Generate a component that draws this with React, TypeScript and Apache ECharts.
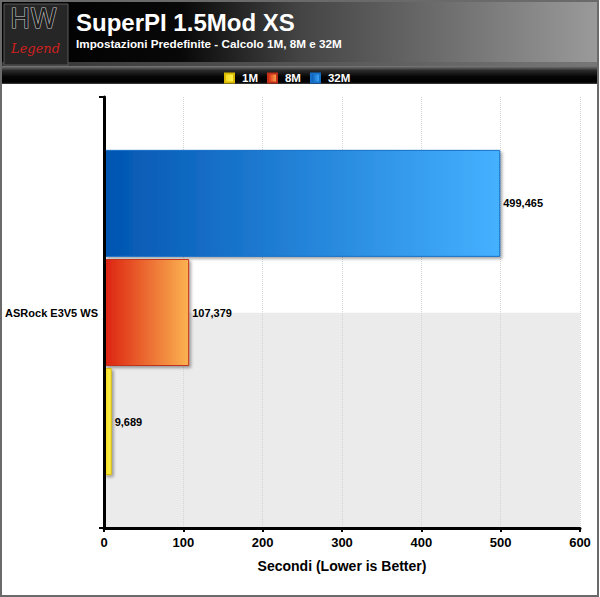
import React, { useEffect, useRef } from "react";
import * as echarts from "echarts";

const categories = ["ASRock E3V5 WS"];
const seriesNames = ["1M", "8M", "32M"];
const values1M = [9.689];
const values8M = [107.379];
const values32M = [499.465];
const xTicks = [0, 100, 200, 300, 400, 500, 600];

const FONT = "'Liberation Sans', Arial, sans-serif";

function grad(c1: string, c2: string) {
  return new echarts.graphic.LinearGradient(0, 0, 1, 0, [
    { offset: 0, color: c1 },
    { offset: 1, color: c2 },
  ]);
}

export default function App() {
  const ref = useRef<HTMLDivElement>(null);
  useEffect(() => {
    document.body.style.margin = "0";
    const chart = echarts.init(ref.current!, null, { renderer: "svg" });
    const fmt = (p: any) => String(p.value.toFixed(3)).replace(".", ",");
    const labelCfg = {
      show: true,
      position: "right",
      distance: 3,
      formatter: fmt,
      color: "#000",
      fontWeight: "bold",
      fontSize: 11,
      fontFamily: FONT,
    };
    const shadow = {
      shadowBlur: 3,
      shadowColor: "rgba(0,0,0,0.35)",
      shadowOffsetX: 2,
      shadowOffsetY: 2,
    };
    const option: any = {
      animation: false,
      backgroundColor: "#fff",
      textStyle: { fontFamily: FONT },
      grid: { left: 104, right: 20, top: 97, bottom: 69, containLabel: false },
      legend: {
        data: seriesNames,
        top: 67,
        left: 219,
        icon: "rect",
        itemWidth: 9,
        itemHeight: 9,
        itemGap: 9,
        textStyle: {
          color: "#fff",
          fontWeight: "bold",
          fontSize: 11.5,
          fontFamily: FONT,
          padding: [0, 0, 0, 3],
        },
      },
      xAxis: {
        type: "value",
        min: xTicks[0],
        max: xTicks[xTicks.length - 1],
        interval: 100,
        axisLine: { show: true, lineStyle: { color: "#000", width: 3 } },
        axisTick: { show: true, length: 4, lineStyle: { color: "#000", width: 2 } },
        axisLabel: {
          color: "#000",
          fontWeight: "bold",
          fontSize: 13,
          fontFamily: FONT,
          margin: 8,
        },
        splitLine: { show: true, lineStyle: { color: "#d4d4d4", type: "dotted", width: 1 } },
        name: "Secondi (Lower is Better)",
        nameLocation: "middle",
        nameGap: 31,
        nameTextStyle: { color: "#000", fontWeight: "bold", fontSize: 14, fontFamily: FONT },
      },
      yAxis: [
        {
          type: "category",
          data: categories,
          axisLine: { show: true, lineStyle: { color: "#000", width: 3 } },
          axisTick: { show: true, length: 5, lineStyle: { color: "#000", width: 2 } },
          axisLabel: {
            color: "#000",
            fontWeight: "bold",
            fontSize: 11,
            fontFamily: FONT,
            margin: 6,
          },
          z: 5,
        },
        {
          type: "value",
          min: 0,
          max: 2,
          interval: 1,
          position: "right",
          axisLine: { show: false },
          axisTick: { show: false },
          axisLabel: { show: false },
          splitLine: { show: false },
          splitArea: { show: true, areaStyle: { color: ["#ebebeb", "#ffffff"] } },
        },
      ],
      series: [
        {
          name: "32M",
          type: "bar",
          data: values32M,
          barWidth: 107,
          barGap: "2%",
          itemStyle: {
            color: grad("#0255b0", "#45b1ff"),
            borderColor: "#1670c8",
            borderWidth: 1,
            ...shadow,
          },
          label: labelCfg,
        },
        {
          name: "8M",
          type: "bar",
          data: values8M,
          barWidth: 107,
          barGap: "2%",
          itemStyle: {
            color: grad("#dc2210", "#fbb352"),
            borderColor: "#c0301a",
            borderWidth: 1,
            ...shadow,
          },
          label: labelCfg,
        },
        {
          name: "1M",
          type: "bar",
          data: values1M,
          barWidth: 107,
          barGap: "2%",
          itemStyle: {
            color: grad("#f2d81a", "#fff350"),
            borderColor: "#d8b800",
            borderWidth: 1,
            ...shadow,
          },
          label: labelCfg,
        },
      ],
      graphic: [
        {
          type: "rect",
          shape: { x: 1, y: 1, width: 597, height: 595 },
          style: { fill: "none", stroke: "#6a6a6a", lineWidth: 2 },
          z: 100,
          silent: true,
        },
        {
          type: "rect",
          shape: { x: 2, y: 2, width: 595, height: 63 },
          style: {
            fill: new echarts.graphic.LinearGradient(0, 0, 1, 0, [
              { offset: 0, color: "#000" },
              { offset: 0.3, color: "#080808" },
              { offset: 0.5, color: "#444" },
              { offset: 1, color: "#9a9a9a" },
            ]),
          },
          z: 1,
          silent: true,
        },
        {
          type: "rect",
          shape: { x: 2, y: 62, width: 595, height: 4 },
          style: {
            fill: new echarts.graphic.LinearGradient(0, 0, 1, 0, [
              { offset: 0, color: "#333" },
              { offset: 1, color: "#777" },
            ]),
          },
          z: 1,
          silent: true,
        },
        {
          type: "rect",
          shape: { x: 2, y: 66, width: 595, height: 18 },
          style: {
            fill: new echarts.graphic.LinearGradient(0, 0, 0, 1, [
              { offset: 0, color: "#7a7a7a" },
              { offset: 0.25, color: "#2a2a2a" },
              { offset: 0.6, color: "#050505" },
              { offset: 0.9, color: "#000" },
              { offset: 1, color: "#444" },
            ]),
          },
          z: 1,
          silent: true,
        },
        {
          type: "rect",
          shape: { x: 4, y: 4, width: 64, height: 61 },
          style: { fill: "#262626", stroke: "#5a5a5a", lineWidth: 1 },
          z: 2,
          silent: true,
        },
        {
          type: "text",
          x: 10,
          y: 5,
          style: {
            text: "HW",
            fill: "#1e1e1e",
            stroke: "#c8c8c8",
            lineWidth: 1.2,
            fontSize: 27,
            fontFamily: "'DejaVu Sans'",
            fontWeight: "normal",
          },
          z: 3,
          silent: true,
        },
        {
          type: "text",
          x: 11,
          y: 42,
          style: {
            text: "Legend",
            fill: "#d02020",
            fontSize: 13,
            fontStyle: "italic",
            fontFamily: "'DejaVu Serif'",
          },
          z: 3,
          silent: true,
        },
        {
          type: "text",
          x: 76,
          y: 10,
          style: {
            text: "SuperPI 1.5Mod XS",
            fill: "#fff",
            fontSize: 24,
            fontWeight: "bold",
            fontFamily: FONT,
          },
          z: 3,
          silent: true,
        },
        {
          type: "text",
          x: 76,
          y: 37,
          style: {
            text: "Impostazioni Predefinite - Calcolo 1M, 8M e 32M",
            fill: "#fff",
            fontSize: 11.7,
            fontWeight: "bold",
            fontFamily: FONT,
          },
          z: 3,
          silent: true,
        },
      ],
    };
    chart.setOption(option);
    return () => chart.dispose();
  }, []);
  return (
    <div
      ref={ref}
      style={{ position: "absolute", left: 0, top: 0, width: 600, height: 597 }}
    />
  );
}
